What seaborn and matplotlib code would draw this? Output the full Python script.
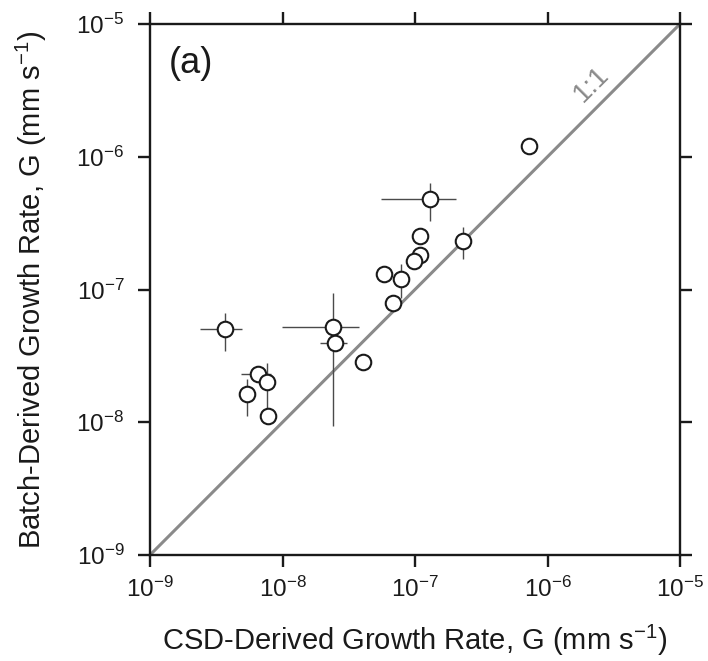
import numpy as np
import pandas as pd
import matplotlib
matplotlib.use("Agg")
import matplotlib.pyplot as plt
import seaborn as sns

# CSD-derived vs batch-derived growth rates (mm s^-1)
csd_rate = [7.2e-7, 1.30e-7, 1.10e-7, 1.10e-7, 9.9e-8, 5.86e-8, 7.8e-8, 6.85e-8,
            2.29e-7, 3.68e-9, 2.39e-8, 2.49e-8, 4.07e-8, 6.56e-9, 7.6e-9, 5.37e-9, 7.73e-9]
batch_rate = [1.2e-6, 4.8e-7, 2.52e-7, 1.82e-7, 1.64e-7, 1.31e-7, 1.21e-7, 7.85e-8,
              2.32e-7, 5.03e-8, 5.18e-8, 3.96e-8, 2.82e-8, 2.30e-8, 2.01e-8, 1.62e-8, 1.11e-8]
csd_err = [0, 7.5e-8, 0, 0, 0, 0, 0, 0,
           0, 1.28e-9, 1.4e-8, 5.6e-9, 0, 1.7e-9, 0, 0, 0]
batch_err = [0, 1.5e-7, 0, 0, 0, 0, 3.5e-8, 0,
             6.2e-8, 1.57e-8, 4.25e-8, 0, 0, 0, 7.8e-9, 5e-9, 0]

one_to_one = [1e-9, 1e-5]
axis_limits = [1e-9, 1e-5]

sns.set_theme(style="ticks")
plt.rcParams["font.family"] = ["Liberation Sans", "DejaVu Sans"]
plt.rcParams["mathtext.fontset"] = "custom"
plt.rcParams["mathtext.rm"] = "Liberation Sans"
plt.rcParams["mathtext.it"] = "Liberation Sans:italic"
plt.rcParams["mathtext.bf"] = "Liberation Sans:bold"

df = pd.DataFrame({"csd": csd_rate, "batch": batch_rate,
                   "csd_err": csd_err, "batch_err": batch_err})

fig = plt.figure(figsize=(7.08, 6.61), dpi=100)
ax = fig.add_axes([150 / 708, 1 - 555 / 661, 530 / 708, 531 / 661])

# 1:1 reference line
sns.lineplot(x=one_to_one, y=one_to_one, ax=ax, color="#8a8a8a", lw=2.2, zorder=1)

# error bars (symmetric in linear units)
xe = df["csd_err"].replace(0, np.nan)
ye = df["batch_err"].replace(0, np.nan)
ax.errorbar(df["csd"], df["batch"], xerr=xe, yerr=ye, fmt="none",
            ecolor="#4a4a4a", elinewidth=1.0, capsize=0, zorder=2)

sns.scatterplot(data=df, x="csd", y="batch", ax=ax, s=125, marker="o",
                facecolor="white", edgecolor="#1a1a1a", linewidth=1.5, zorder=3)

ax.set_xscale("log")
ax.set_yscale("log")
ax.set_xlim(axis_limits)
ax.set_ylim(axis_limits)
ax.set_xticks([1e-9, 1e-8, 1e-7, 1e-6, 1e-5])
ax.set_yticks([1e-9, 1e-8, 1e-7, 1e-6, 1e-5])
ax.minorticks_off()

for side in ["top", "right", "bottom", "left"]:
    ax.spines[side].set_visible(True)
    ax.spines[side].set_linewidth(1.7)
    ax.spines[side].set_color("#1a1a1a")

ax.tick_params(axis="both", which="major", direction="out", length=8.5, width=1.7,
               color="#1a1a1a", labelsize=17.5, top=True, right=True,
               labeltop=False, labelright=False, labelcolor="#1a1a1a")
ax.tick_params(axis="y", pad=10)
ax.tick_params(axis="x", pad=7)

ax.set_xlabel("CSD-Derived Growth Rate, G (mm s$^{\u22121}$)", fontsize=21, labelpad=15,
              color="#1a1a1a")
ax.set_ylabel("Batch-Derived Growth Rate, G (mm s$^{\u22121}$)", fontsize=21, labelpad=20,
              color="#1a1a1a")

ax.text(0.036, 0.925, "(a)", transform=ax.transAxes, fontsize=26, ha="left", va="center",
        color="#1a1a1a")
ax.text(2.16e-6, 3.53e-6, "1:1", fontsize=20, color="#8a8a8a", rotation=45,
        ha="center", va="center", rotation_mode="anchor")

fig.savefig("out.png", dpi=100)
